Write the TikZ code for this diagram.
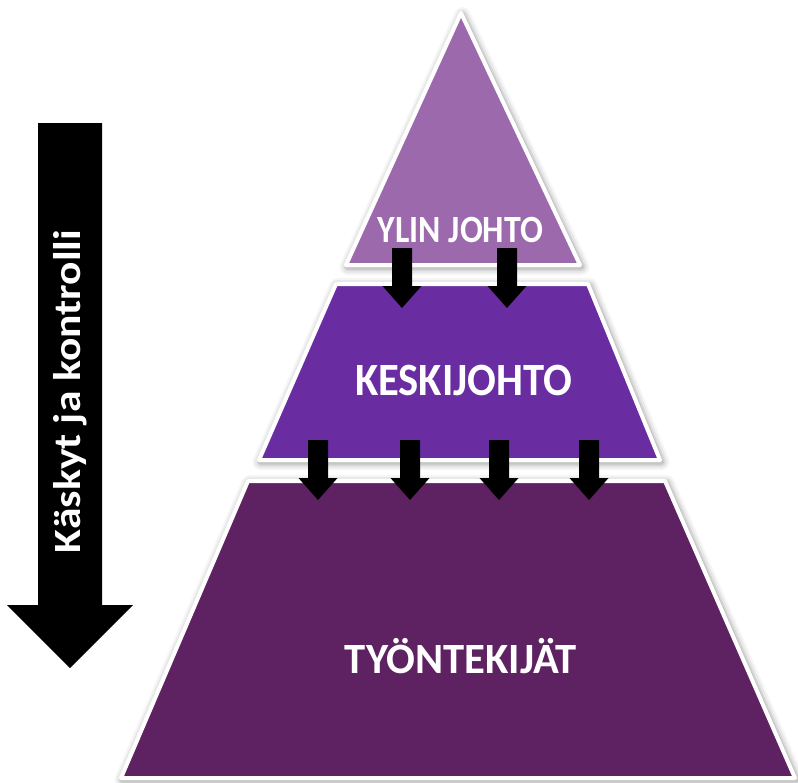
\documentclass[tikz,border=0pt]{standalone}
\usepackage{fontspec}
\setmainfont{Carlito}
\usepackage{graphicx}
\definecolor{topc}{HTML}{9B69AC}
\definecolor{midc}{HTML}{6A2DA1}
\definecolor{botc}{HTML}{5E2161}
\newcommand\capbox[3]{\resizebox{#1}{#2}{\smash{#3}\vphantom{T}}}
% #1 path, #2 fill colour, #3 bottom y
\newcommand\tierdraw[3]{%
  \foreach \w/\o in {16/0.04,12/0.05,8/0.07,5/0.08}{%
    \draw[black, line width=\w pt, opacity=\o, line join=round, xshift=1.5pt, yshift=-2pt] #1;}
  \fill[#2] #1;
  \begin{scope}
    \clip #1;
    \draw[#2!70!black, line width=5pt, opacity=0.8] (0,#3) -- (798,#3);
  \end{scope}
  \draw[tieredge] #1;}
\begin{document}
\begin{tikzpicture}[x=1pt,y=-1pt,
  tieredge/.style={draw=white, line width=4pt, line join=round},
  lbl/.style={inner sep=0pt, text=white, font=\bfseries, anchor=base},
  blockarrow/.pic={\fill[black] (-10,-60) -- (10,-60) -- (10,-22) -- (19.5,-22) -- (0,0) -- (-19.5,-22) -- (-10,-22) -- cycle;}]
\useasboundingbox (0,0) rectangle (798,782);
\fill[white] (0,0) rectangle (798,782);
% pyramid tiers
\tierdraw{(248,481) -- (665,481) -- (795,778) -- (121,778) -- cycle}{botc}{778}
\tierdraw{(336,284) -- (588,284) -- (660,460) -- (259,460) -- cycle}{midc}{460}
\tierdraw{(461,13) -- (580,265) -- (346,265) -- cycle}{topc}{265}
% small arrows
\pic at (402,308) {blockarrow};
\pic at (507,308) {blockarrow};
\pic at (318,500) {blockarrow};
\pic at (410,500) {blockarrow};
\pic at (499,500) {blockarrow};
\pic at (589,500) {blockarrow};
% big arrow
\fill[black] (38,123) -- (102,123) -- (102,605) -- (133,605) -- (70,668) -- (7,605) -- (38,605) -- cycle;
% labels
\node[lbl] (ylin) at (460.5,242) {\capbox{165pt}{25pt}{YLIN JOHTO}};
\node[lbl] (keski) at (463.5,395) {\capbox{217pt}{30pt}{KESKIJOHTO}};
\node[lbl] (tyont) at (461,673) {\capbox{232pt}{28pt}{TYÖNTEKIJÄT}};
\node[lbl, rotate=90] (kasky) at (80,391.5) {\capbox{323pt}{25pt}{Käskyt ja kontrolli}};
\end{tikzpicture}
\end{document}
